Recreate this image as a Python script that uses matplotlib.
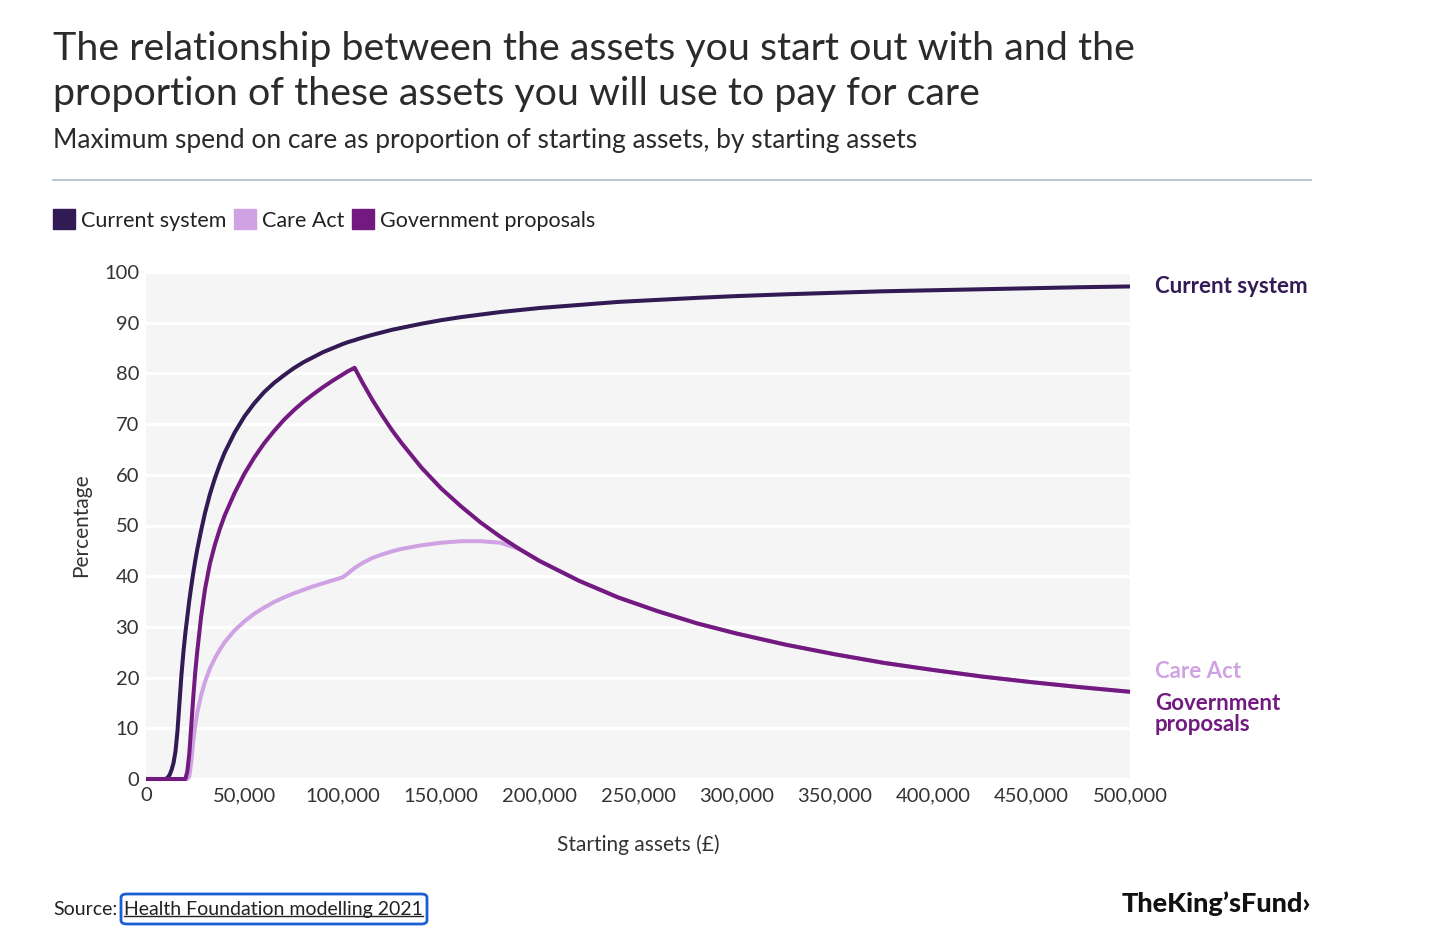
import matplotlib
matplotlib.use("Agg")
import matplotlib.pyplot as plt
from matplotlib.lines import Line2D
from matplotlib.patches import Patch, FancyBboxPatch
from matplotlib.ticker import FuncFormatter

plt.rcParams['font.family'] = ['Lato', 'DejaVu Sans']

# starting assets (£) and max spend as % of starting assets
assets = [0, 5000, 10000, 11000, 12000, 13000, 14000, 15000, 16000, 17000,
          18000, 19000, 20000, 21000, 22000, 23000, 24000, 25000, 26000, 28000,
          30000, 32500, 35000, 37500, 40000, 45000, 50000, 55000, 60000, 65000,
          70000, 75000, 80000, 85000, 90000, 95000, 100000, 102500, 105000, 106000,
          107500, 110000, 115000, 120000, 125000, 130000, 140000, 150000, 160000, 170000,
          180000, 190000, 200000, 220000, 240000, 260000, 280000, 300000, 325000, 350000,
          375000, 400000, 425000, 450000, 475000, 500000]

current_system = [0, 0, 0, 0.3, 0.8, 1.8, 3.2, 5.5, 9.5, 15,
                  20.5, 25, 28.8, 32, 35.2, 38, 40.6, 43, 45.2, 49,
                  52.5, 56.2, 59.3, 62, 64.4, 68.3, 71.5, 74.1, 76.3, 78.1,
                  79.6, 81, 82.2, 83.2, 84.2, 85, 85.8, 86.15, 86.45, 86.55,
                  86.75, 87.05, 87.6, 88.1, 88.6, 89, 89.8, 90.5, 91.1, 91.6,
                  92.1, 92.5, 92.9, 93.5, 94.1, 94.5, 94.9, 95.25, 95.6, 95.9,
                  96.2, 96.4, 96.6, 96.8, 97, 97.15]

care_act = [0, 0, 0, 0, 0, 0, 0, 0, 0, 0,
            0, 0, 0, 0, 0.5, 3.5, 7.5, 10.5, 13, 16.5,
            19.2, 21.8, 23.8, 25.5, 27, 29.3, 31.1, 32.6, 33.8, 34.9,
            35.8, 36.6, 37.3, 38, 38.6, 39.2, 39.8, 40.5, 41.3, 41.6,
            42, 42.6, 43.6, 44.3, 44.9, 45.4, 46.1, 46.6, 46.9, 46.9,
            46.6, 45.3, 43, 39.1, 35.8, 33.1, 30.7, 28.7, 26.5, 24.6,
            22.9, 21.5, 20.2, 19.1, 18.1, 17.2]

government = [0, 0, 0, 0, 0, 0, 0, 0, 0, 0,
              0, 0, 0, 1.5, 5, 10.5, 16, 21, 25, 32,
              37.5, 42.5, 46.2, 49.3, 52, 56.4, 60.2, 63.4, 66.2, 68.6,
              70.8, 72.7, 74.4, 75.9, 77.3, 78.6, 79.8, 80.4, 80.9, 81.1,
              80, 78.2, 74.8, 71.7, 68.8, 66.2, 61.4, 57.3, 53.8, 50.6,
              47.8, 45.3, 43, 39.1, 35.8, 33.1, 30.7, 28.7, 26.5, 24.6,
              22.9, 21.5, 20.2, 19.1, 18.1, 17.2]

series_names = ["Current system", "Care Act", "Government proposals"]
colors = ["#321a54", "#cfa3e3", "#721a80"]

W, H = 1456, 938
def fx(px):
    return px / W
def fy(py):
    return 1 - py / H

fig = plt.figure(figsize=(W / 100, H / 100), dpi=100)
fig.patch.set_facecolor("white")

ax = fig.add_axes([fx(146), fy(779), fx(1130) - fx(146), fy(272) - fy(779)])
ax.set_facecolor("#f5f5f5")
ax.set_xlim(0, 500000)
ax.set_ylim(0, 100)
ax.set_yticks(range(0, 101, 10))
ax.set_xticks(range(0, 500001, 50000))
ax.xaxis.set_major_formatter(FuncFormatter(lambda v, p: f"{int(v):,}"))
ax.grid(axis="y", color="white", linewidth=2.4)
ax.set_axisbelow(True)
for s in ax.spines.values():
    s.set_visible(False)
ax.tick_params(length=0, labelsize=14.5, labelcolor="#333333")
ax.tick_params(axis="y", pad=5)
ax.tick_params(axis="x", pad=6)

for vals, c in zip([current_system, care_act, government], colors):
    ax.plot(assets, vals, color=c, linewidth=2.9, clip_on=False,
            solid_capstyle="butt", solid_joinstyle="round")

ax.set_xlabel("Starting assets (£)", fontsize=15, color="#333333", labelpad=22)
ax.set_ylabel("Percentage", fontsize=15, color="#333333", labelpad=9)

# end labels
lab_kw = dict(fontsize=16, fontweight="bold", va="center", ha="left")
fig.text(fx(1155), fy(286), "Current system", color=colors[0], **lab_kw)
fig.text(fx(1155), fy(671), "Care Act", color=colors[1], **lab_kw)
fig.text(fx(1155), fy(714), "Government\nproposals", color=colors[2],
         linespacing=0.95, **lab_kw)

# titles
fig.text(fx(53), fy(60), "The relationship between the assets you start out with and the",
         fontsize=28.4, color="#2b2b2b", va="baseline")
fig.text(fx(53), fy(105), "proportion of these assets you will use to pay for care",
         fontsize=28.4, color="#2b2b2b", va="baseline")
fig.text(fx(53), fy(148), "Maximum spend on care as proportion of starting assets, by starting assets",
         fontsize=19, color="#2b2b2b", va="baseline")
fig.add_artist(Line2D([fx(53), fx(1311)], [fy(180), fy(180)], color="#aebbc6", linewidth=1.2))

handles = [Patch(facecolor=c, edgecolor=c) for c in colors]
fig.legend(handles, series_names, loc="center left", bbox_to_anchor=(fx(34), fy(220)),
           ncol=3, frameon=False, fontsize=15.5, handlelength=1.0, handleheight=1.0,
           handletextpad=0.3, columnspacing=0.35, labelcolor="#222222")

# footer
fig.text(fx(53), fy(909), "Source:", fontsize=14, color="#222222", va="center")
link = fig.text(fx(124), fy(909), "Health Foundation modelling 2021", fontsize=14,
                color="#222222", va="center")
fig.canvas.draw()
bb = link.get_window_extent().transformed(fig.transFigure.inverted())
fig.add_artist(Line2D([bb.x0, bb.x1], [bb.y0 + 0.002, bb.y0 + 0.002],
                      color="#222222", linewidth=1.0))
fig.add_artist(FancyBboxPatch((fx(121), fy(924)), fx(427) - fx(121), fy(894) - fy(924),
                              boxstyle="round,pad=0,rounding_size=0.004",
                              transform=fig.transFigure, fill=False,
                              edgecolor="#1a5fd0", linewidth=2))
fig.text(fx(1311), fy(904), "TheKing’sFund›", fontsize=19.5, fontweight="black",
         color="#111111", ha="right", va="center")

fig.savefig("out.png", dpi=100)
